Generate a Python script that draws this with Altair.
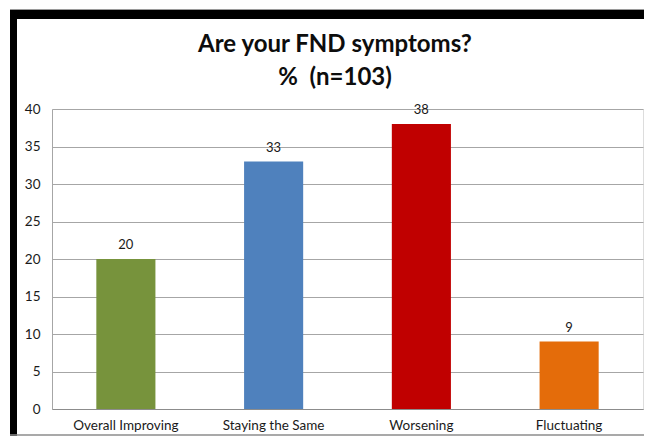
import altair as alt
import pandas as pd

categories = ["Overall Improving", "Staying the Same", "Worsening", "Fluctuating"]
values = [20, 33, 38, 9]
colors = ["#77933C", "#4F81BD", "#C00000", "#E46C0A"]
y_ticks = [0, 5, 10, 15, 20, 25, 30, 35, 40]
title_lines = ["Are your FND symptoms?", "%\u00a0\u00a0(n=103)"]

df = pd.DataFrame({"cat": categories, "val": values, "color": colors})

FONT = "Lato"

x_enc = alt.X("cat:N", sort=categories,
              scale=alt.Scale(paddingInner=0.6, paddingOuter=0.3),
              axis=alt.Axis(title=None, labelAngle=0, ticks=False, domainColor="#8c8c8c",
                            labelFontSize=13.5, labelColor="#1a1a1a", labelPadding=9,
                            labelFont=FONT))
y_enc = alt.Y("val:Q", scale=alt.Scale(domain=[0, 40], nice=False),
              axis=alt.Axis(title=None, values=y_ticks, ticks=False, gridColor="#a6a6a6",
                            domainColor="#a6a6a6", labelFontSize=13.5, labelColor="#1a1a1a",
                            labelPadding=12, labelFont=FONT, labelOverlap=False))

base = alt.Chart(df)
bars = base.mark_bar().encode(
    x=x_enc, y=y_enc,
    color=alt.Color("color:N", scale=None),
)
labels = base.mark_text(baseline="bottom", dy=-7, fontSize=13, font=FONT, color="#1a1a1a").encode(
    x=x_enc, y=y_enc, text="val:Q"
)

one = alt.Data(values=[{"a": 1}])
title1 = alt.Chart(one).mark_text(fontSize=24, font=FONT, fontWeight="bold", color="#0d0d0d",
                                   baseline="alphabetic", align="center").encode(
    x=alt.value(283), y=alt.value(-57), text=alt.value(title_lines[0]))
title2 = alt.Chart(one).mark_text(fontSize=24, font=FONT, fontWeight="bold", color="#0d0d0d",
                                   baseline="alphabetic", align="center").encode(
    x=alt.value(283), y=alt.value(-24), text=alt.value(title_lines[1]))
top_bar = alt.Chart(one).mark_rule(color="black", strokeWidth=9).encode(
    x=alt.value(-42), x2=alt.value(600), y=alt.value(-94.5))
top_line = alt.Chart(one).mark_rule(color="#9a9a9a", strokeWidth=1).encode(
    x=alt.value(-42), x2=alt.value(600), y=alt.value(-99.5))
left_bar = alt.Chart(one).mark_rule(color="black", strokeWidth=7).encode(
    x=alt.value(-38.5), y=alt.value(-99), y2=alt.value(327))
bottom_line = alt.Chart(one).mark_rule(color="#8c8c8c", strokeWidth=1.5).encode(
    x=alt.value(-42), x2=alt.value(600), y=alt.value(326))

chart = alt.layer(bars, labels, title1, title2, top_bar, top_line, left_bar, bottom_line).properties(
    width=591, height=300,
    autosize=alt.AutoSizeParams(type="none"),
    padding={"left": 44, "top": 101, "right": 1, "bottom": 27},
).configure_view(stroke=None).configure(background="white")

chart.save("out.html", embed_options={"renderer": "svg", "actions": False})
